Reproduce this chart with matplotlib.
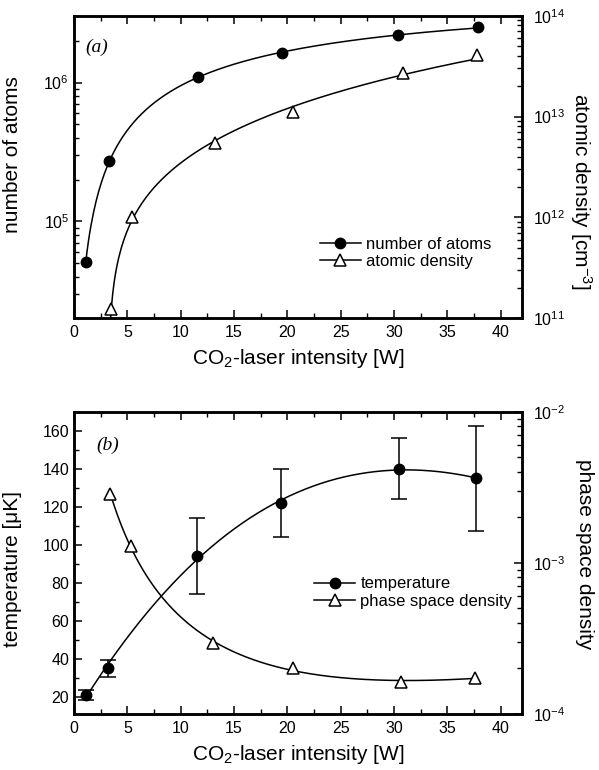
import numpy as np
import matplotlib
matplotlib.use("Agg")
import matplotlib.pyplot as plt
from matplotlib.ticker import MultipleLocator, NullFormatter, FixedLocator

plt.rcParams['font.family'] = ['Liberation Sans', 'DejaVu Sans']
plt.rcParams['mathtext.fontset'] = 'custom'
plt.rcParams['mathtext.rm'] = 'Liberation Sans'
plt.rcParams['mathtext.it'] = 'Liberation Sans:italic'

# ---- data: panel (a)
x_atoms = [1.1, 3.3, 11.6, 19.5, 30.4, 37.9]
n_atoms = [5.07e4, 2.7e5, 1.1e6, 1.62e6, 2.2e6, 2.5e6]
x_dens = [3.5, 5.4, 13.2, 20.5, 30.8, 37.8]
n_dens = [1.25e11, 1.0e12, 5.5e12, 1.12e13, 2.7e13, 4.1e13]

# ---- data: panel (b)
x_temp = [1.1, 3.2, 11.5, 19.4, 30.5, 37.7]
temp = [21, 35, 94, 122, 140, 135]
temp_err = [2.5, 4.5, 20, 18, 16, 27.5]
x_psd = [3.4, 5.3, 13.0, 20.5, 30.7, 37.6]
psd = [2.86e-3, 1.30e-3, 2.95e-4, 2.02e-4, 1.63e-4, 1.73e-4]

xticks = [0, 5, 10, 15, 20, 25, 30, 35, 40]

fig = plt.figure(figsize=(5.99, 7.70), dpi=100)
L, R = 74/599, 522/599
axA = fig.add_axes([L, 1-318.3/770, R-L, (318.3-15.7)/770])
axB = fig.add_axes([L, 1-714/770, R-L, (714-411.7)/770])

SP = 1.8
def style_x(ax):
    ax.set_xlim(0, 42)
    ax.xaxis.set_major_locator(FixedLocator(xticks))
    ax.xaxis.set_minor_locator(MultipleLocator(2.5))
    ax.tick_params(axis='x', which='both', direction='in', top=True, bottom=True, labelsize=11.5, pad=5)
    ax.tick_params(axis='both', which='major', length=6, width=1.1)
    ax.tick_params(axis='both', which='minor', length=3.5, width=1.0)
    for s in ax.spines.values():
        s.set_linewidth(SP)
    ax.set_xlabel('CO$_2$-laser intensity [W]', fontsize=15, labelpad=5)

def style_right(ax2):
    ax2.tick_params(axis='y', which='both', direction='in', right=True, left=False, labelsize=11.5, pad=8)
    ax2.tick_params(axis='y', which='major', length=6, width=1.1)
    ax2.tick_params(axis='y', which='minor', length=3.5, width=1.0)
    ax2.yaxis.set_minor_formatter(NullFormatter())
    for s in ax2.spines.values():
        s.set_linewidth(SP)

# ---------------- panel (a)
ax = axA
style_x(ax)
ax.set_yscale('log')
ax.set_ylim(2e4, 3.03e6)
ax.tick_params(axis='y', which='both', direction='in', left=True, right=False, labelsize=11.5)
ax.yaxis.set_minor_formatter(NullFormatter())
ax.set_yticks([1e5, 1e6])
ax.set_yticklabels(['10$^5$', '10$^6$'])
ax.set_ylabel('number of atoms', fontsize=15)
ax.yaxis.set_label_coords(-0.115, 0.54)

# smooth fit curve: quadratic in log-log space
ca = np.polyfit(np.log10(x_atoms), np.log10(n_atoms), 2)
xs = np.linspace(x_atoms[0], x_atoms[-1], 300)
ax.plot(xs, 10**np.polyval(ca, np.log10(xs)), color='black', lw=1.1)
ax.plot(x_atoms, n_atoms, 'o', color='black', ms=7.5)

axA2 = ax.twinx()
axA2.set_yscale('log')
axA2.set_ylim(1e11, 1e14)
style_right(axA2)
axA2.set_yticks([1e11, 1e12, 1e13, 1e14])
axA2.set_yticklabels(['10$^{11}$', '10$^{12}$', '10$^{13}$', '10$^{14}$'])
axA2.set_ylabel('atomic density [cm$^{-3}$]', fontsize=15, rotation=270)
axA2.yaxis.set_label_coords(1.16, 0.42)

# smooth fit curve: quadratic with relative weights
cd = np.polyfit(x_dens, n_dens, 2, w=1/np.array(n_dens))
xs2 = np.linspace(x_dens[0] - 0.1, x_dens[-1], 300)
axA2.plot(xs2, np.polyval(cd, xs2), color='black', lw=1.1)
axA2.plot(x_dens, n_dens, '^', mfc='white', mec='black', mew=1.1, ms=8)

h1 = plt.Line2D([], [], color='black', lw=1.1, marker='o', ms=7.5)
h2 = plt.Line2D([], [], color='black', lw=1.1, marker='^', ms=8, mfc='white', mew=1.1)
axA2.legend([h1, h2], ['number of atoms', 'atomic density'], loc='upper left',
            bbox_to_anchor=(0.548, 0.27), frameon=False, fontsize=12,
            handlelength=2.5, handletextpad=0.3, labelspacing=0.15,
            borderpad=0, borderaxespad=0)
axA.text(0.025, 0.897, '(a)', transform=axA.transAxes, fontsize=14,
         family='Liberation Serif', style='italic', ha='left', va='center')

# ---------------- panel (b)
ax = axB
style_x(ax)
ax.set_ylim(11, 170)
ax.yaxis.set_major_locator(FixedLocator([20, 40, 60, 80, 100, 120, 140, 160]))
ax.yaxis.set_minor_locator(MultipleLocator(10))
ax.tick_params(axis='y', which='both', direction='in', left=True, right=False, labelsize=11.5)
ax.set_ylabel('temperature [μK]', fontsize=15)
ax.yaxis.set_label_coords(-0.115, 0.48)

ct = np.polyfit(x_temp, temp, 3)
xs3 = np.linspace(x_temp[0], x_temp[-1], 300)
ax.plot(xs3, np.polyval(ct, xs3), color='black', lw=1.1)
ax.errorbar(x_temp, temp, yerr=temp_err, fmt='o', color='black', ms=7.5,
            ecolor='black', elinewidth=1.1, capsize=5.5, capthick=1.1)

axB2 = ax.twinx()
axB2.set_yscale('log')
axB2.set_ylim(1e-4, 1e-2)
style_right(axB2)
axB2.set_yticks([1e-4, 1e-3, 1e-2])
axB2.set_yticklabels(['10$^{-4}$', '10$^{-3}$', '10$^{-2}$'])
axB2.set_ylabel('phase space density', fontsize=15, rotation=270)
axB2.yaxis.set_label_coords(1.16, 0.53)

# smooth fit curve: cubic in log-log space
cp = np.polyfit(np.log10(x_psd), np.log10(psd), 3)
xs4 = np.linspace(x_psd[0], x_psd[-1], 300)
axB2.plot(xs4, 10**np.polyval(cp, np.log10(xs4)), color='black', lw=1.1)
axB2.plot(x_psd, psd, '^', mfc='white', mec='black', mew=1.1, ms=8)

h3 = plt.Line2D([], [], color='black', lw=1.1, marker='o', ms=7.5)
h4 = plt.Line2D([], [], color='black', lw=1.1, marker='^', ms=8, mfc='white', mew=1.1)
axB2.legend([h3, h4], ['temperature', 'phase space density'], loc='upper left',
            bbox_to_anchor=(0.535, 0.455), frameon=False, fontsize=12,
            handlelength=2.5, handletextpad=0.3, labelspacing=0.15,
            borderpad=0, borderaxespad=0)
axB.text(0.05, 0.89, '(b)', transform=axB.transAxes, fontsize=14,
         family='Liberation Serif', style='italic', ha='left', va='center')

fig.savefig('out.png', dpi=100)
